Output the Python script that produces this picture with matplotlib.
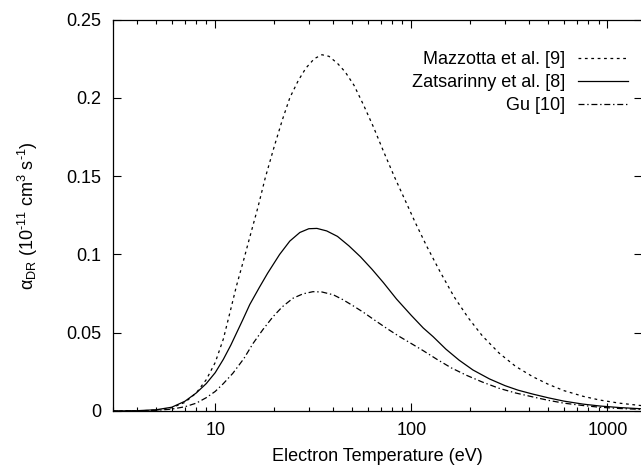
import matplotlib
matplotlib.use("Agg")
import matplotlib.pyplot as plt
from matplotlib.ticker import LogLocator, FixedLocator, NullLocator, FuncFormatter

# values
maz_T = [3, 4, 5, 6, 7, 8, 9, 10, 11, 12, 12.8, 14, 15, 16.5, 18, 20, 22, 24, 26.5, 29, 32,
         35, 38, 42, 46, 51, 57, 64, 72, 82, 93, 105, 120, 140, 165, 195, 230, 280, 340,
         416, 500, 600, 750, 912, 1150, 1500]
maz_a = [0.0, 0.0001, 0.0005, 0.0021, 0.0055, 0.0115, 0.020, 0.031, 0.046, 0.065, 0.0794,
         0.097, 0.111, 0.130, 0.149, 0.169, 0.186, 0.200, 0.211, 0.219, 0.225,
         0.2275, 0.2265, 0.2220, 0.2165, 0.2080, 0.1955, 0.1815, 0.1660, 0.1495, 0.1345,
         0.120, 0.105, 0.089, 0.073, 0.0595, 0.048, 0.037, 0.0285,
         0.0219, 0.0170, 0.0130, 0.0094, 0.0070, 0.0050, 0.0034]

zat_T = [3, 4, 5, 6, 7, 8, 9, 10, 11, 12, 13.8, 15, 16.8, 18.5, 21.3, 24, 27, 30, 33, 37,
         42, 48, 55, 63, 72, 84, 100, 115, 129, 150, 175, 206, 250, 300, 350, 416, 500,
         600, 750, 912, 1150, 1500]
zat_a = [0.0, 0.0002, 0.0008, 0.0024, 0.0062, 0.0115, 0.0175, 0.0245, 0.0330, 0.042,
         0.0581, 0.0680, 0.0790, 0.0880, 0.1000, 0.1085, 0.1140, 0.1164, 0.1166, 0.1150,
         0.1115, 0.1055, 0.0985, 0.0905, 0.0820, 0.0715, 0.0610, 0.0530, 0.0475, 0.0395,
         0.0325, 0.0262, 0.0205, 0.0162, 0.0133, 0.0108, 0.0084, 0.0063, 0.0044, 0.0032,
         0.0022, 0.0014]

gu_T = [3, 4, 5, 6, 7, 8, 9, 10, 11, 12.3, 14, 15.6, 17.5, 19.7, 22, 24.9, 28, 31.5, 35,
        40, 44.6, 50, 57, 65, 75, 86, 98, 115, 135, 160, 191, 230, 280, 340, 416, 500,
        600, 750, 912, 1150, 1500]
gu_a = [0.0, 0.0001, 0.0004, 0.0012, 0.0027, 0.0050, 0.0085, 0.0125, 0.0175, 0.0241,
        0.0335, 0.0432, 0.052, 0.0602, 0.0666, 0.0720, 0.0748, 0.0762, 0.0760, 0.0742,
        0.0712, 0.0675, 0.0630, 0.0580, 0.0527, 0.0479, 0.0437, 0.0385, 0.0330, 0.0275,
        0.0228, 0.0185, 0.0145, 0.0115, 0.0090, 0.0068, 0.0050, 0.0035, 0.0024, 0.0016,
        0.0010]

labels = ["Mazzotta et al. [9]", "Zatsarinny et al. [8]", "Gu [10]"]
x_ticks = [10, 100, 1000]
y_ticks = [0, 0.05, 0.1, 0.15, 0.2, 0.25]

plt.rcParams["font.family"] = ["Liberation Sans", "DejaVu Sans"]
plt.rcParams["mathtext.fontset"] = "custom"
plt.rcParams["mathtext.rm"] = "Liberation Sans"
plt.rcParams["mathtext.it"] = "Liberation Sans:italic"
plt.rcParams["lines.scale_dashes"] = False

fig = plt.figure(figsize=(6.41, 4.68), dpi=100)
ax = fig.add_axes([0.1758, 0.1218, 0.8258, 0.8365])

ax.plot(maz_T, maz_a, color="black", lw=0.9, dashes=(2.0, 2.6), label=labels[0])
ax.plot(zat_T, zat_a, color="black", lw=0.9, label=labels[1])
ax.plot(gu_T, gu_a, color="black", lw=0.9, dashes=(4.3, 2.0, 1.0, 2.0), label=labels[2])

ax.set_xscale("log")
ax.set_xlim(3, 1500)
ax.set_ylim(0, 0.25)
ax.xaxis.set_major_locator(FixedLocator(x_ticks))
ax.xaxis.set_major_formatter(FuncFormatter(lambda v, p: "%d" % v))
ax.xaxis.set_minor_locator(LogLocator(base=10, subs=range(2, 10)))
ax.xaxis.set_minor_formatter(FuncFormatter(lambda v, p: ""))
ax.yaxis.set_major_locator(FixedLocator(y_ticks))
ax.yaxis.set_major_formatter(FuncFormatter(lambda v, p: "0" if v == 0 else ("%g" % v)))
ax.yaxis.set_minor_locator(NullLocator())

ax.tick_params(which="both", direction="in", top=True, right=True, labelsize=13, width=0.8)
ax.tick_params(which="major", length=5.5, pad=8)
ax.tick_params(which="minor", length=2.8)
for s in ax.spines.values():
    s.set_linewidth(0.9)

ax.set_xlabel("Electron Temperature (eV)", fontsize=13)
ax.xaxis.set_label_coords(0.5, -0.1175)
ax.xaxis.label.set_va("center")
ax.set_ylabel(r"$\mathrm{\alpha}_{\rm DR}$ (10$^{\text{-11}}$ cm$^{\rm 3}$ s$^{\text{-1}}$)", fontsize=13)
ax.yaxis.set_label_coords(-0.16, 0.5)
ax.yaxis.label.set_va("center")

ax.legend(loc="upper right", bbox_to_anchor=(0.9736, 0.92), frameon=False,
          markerfirst=False, fontsize=13, handlelength=2.77, handletextpad=0.72,
          labelspacing=0.35, borderpad=0, borderaxespad=0)

fig.savefig("out.png", dpi=100)
